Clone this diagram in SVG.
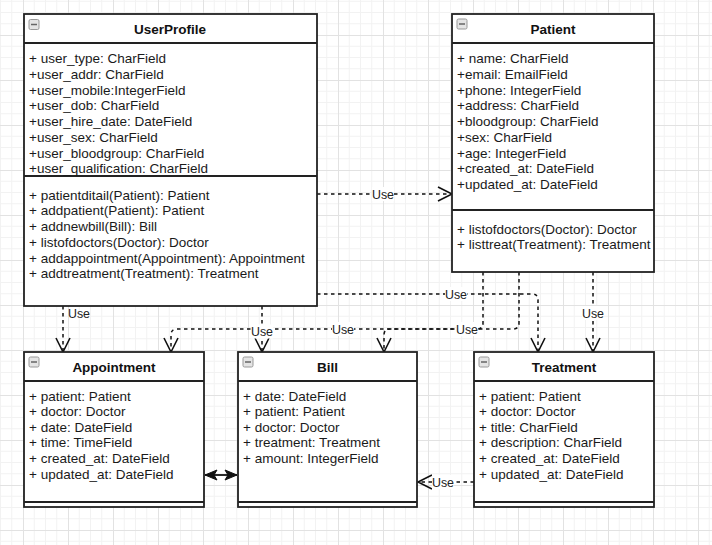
<svg xmlns="http://www.w3.org/2000/svg" width="712" height="545" viewBox="0 0 712 545">
<style>
.box{fill:#fff;stroke:#222;stroke-width:1.8}
.sep{stroke:#222;stroke-width:1.8;fill:none}
.title{font-family:"Liberation Sans",Arial,sans-serif;font-size:13.5px;font-weight:bold;fill:#111;text-anchor:middle}
.txt{font-family:"Liberation Sans",Arial,sans-serif;font-size:13.5px;fill:#1a1a1a}
.icon{fill:#e4e4e4;stroke:#999;stroke-width:1}
.iconbar{stroke:#666;stroke-width:1.5}
.dash{fill:none;stroke:#111;stroke-width:1.5;stroke-dasharray:3.5 3.5}
.solid{fill:none;stroke:#111;stroke-width:1.8}
.lbl{font-family:"Liberation Sans",Arial,sans-serif;font-size:12.4px;fill:#222;text-anchor:middle}
.lblbg{fill:#fff}
</style>
<defs>
<pattern id="grid" x="23" y="35" width="45" height="45" patternUnits="userSpaceOnUse">
<path d="M11.25 0V45M22.5 0V45M33.75 0V45M0 11.25H45M0 22.5H45M0 33.75H45" stroke="#f2f2f2" stroke-width="1" fill="none"/>
<path d="M0.5 0V45M0 0.5H45" stroke="#e2e2e2" stroke-width="1" fill="none"/>
</pattern>
<marker id="open" viewBox="-16 -9 18 18" refX="0" refY="0" markerWidth="18" markerHeight="18" markerUnits="userSpaceOnUse" orient="auto">
<path d="M-14,-7 L0,0 L-14,7" fill="none" stroke="#111" stroke-width="1.6" stroke-dasharray="none"/>
</marker>
<marker id="block" viewBox="-14 -7 16 14" refX="0" refY="0" markerWidth="16" markerHeight="14" markerUnits="userSpaceOnUse" orient="auto-start-reverse">
<path d="M0,0 L-12,-5 L-9,0 L-12,5 Z" fill="#111" stroke="#111" stroke-width="1"/>
</marker>
</defs>
<rect width="712" height="545" fill="#fff"/>
<rect width="712" height="545" fill="url(#grid)"/>

<g id="connectors">
<path class="dash" d="M317,194 H452" marker-end="url(#open)"/>
<path class="dash" d="M63,306 V352" marker-end="url(#open)"/>
<path class="dash" d="M262,306 V352" marker-end="url(#open)"/>
<path class="dash" d="M317,294 H532 Q538,294 538,300 V352" marker-end="url(#open)"/>
<path class="dash" d="M483,272 V323 Q483,329 477,329 H177 Q171,329 171,335 V352" marker-end="url(#open)"/>
<path class="dash" d="M519,272 V323 Q519,329 513,329 H390 Q384,329 384,335 V352" marker-end="url(#open)"/>
<path class="dash" d="M593,272 V352" marker-end="url(#open)"/>
<path class="dash" d="M474,482 H418" marker-end="url(#open)"/>
<path class="solid" d="M205,475 H237" marker-start="url(#block)" marker-end="url(#block)"/>
<g id="labels">
<rect class="lblbg" x="372" y="187" width="22" height="14"/><text class="lbl" x="383" y="198.5">Use</text>
<text class="lbl" x="79" y="317.5">Use</text>
<rect class="lblbg" x="251" y="324.5" width="22" height="14"/><text class="lbl" x="262" y="335.5">Use</text>
<rect class="lblbg" x="445" y="287" width="22" height="14"/><text class="lbl" x="456" y="298.5">Use</text>
<rect class="lblbg" x="332" y="322" width="22" height="14"/><text class="lbl" x="343" y="333.5">Use</text>
<rect class="lblbg" x="456" y="322" width="22" height="14"/><text class="lbl" x="467" y="333.5">Use</text>
<rect class="lblbg" x="582" y="306" width="22" height="14"/><text class="lbl" x="593" y="317.5">Use</text>
<rect class="lblbg" x="432" y="475" width="22" height="14"/><text class="lbl" x="443" y="486.5">Use</text>
</g>
</g>

<g id="UserProfile">
<rect class="box" x="24" y="14" width="293" height="292"/>
<line class="sep" x1="24" y1="43" x2="317" y2="43"/>
<line class="sep" x1="24" y1="176" x2="317" y2="176"/>
<rect class="icon" x="29" y="19.5" width="10" height="10" rx="1.5"/><line class="iconbar" x1="31" y1="24.5" x2="37" y2="24.5"/>
<text class="title" x="170" y="34">UserProfile</text>
<text class="txt">
<tspan x="29" y="63">+ user_type: CharField</tspan>
<tspan x="29" y="78.75">+user_addr: CharField</tspan>
<tspan x="29" y="94.5">+user_mobile:IntegerField</tspan>
<tspan x="29" y="110.25">+user_dob: CharField</tspan>
<tspan x="29" y="126">+user_hire_date: DateField</tspan>
<tspan x="29" y="141.75">+user_sex: CharField</tspan>
<tspan x="29" y="157.5">+user_bloodgroup: CharField</tspan>
<tspan x="29" y="173.25">+user_qualification: CharField</tspan>
</text>
<text class="txt">
<tspan x="29" y="199.5">+ patientditail(Patient): Patient</tspan>
<tspan x="29" y="215.25">+ addpatient(Patient): Patient</tspan>
<tspan x="29" y="231">+ addnewbill(Bill): Bill</tspan>
<tspan x="29" y="246.75">+ listofdoctors(Doctor): Doctor</tspan>
<tspan x="29" y="262.5">+ addappointment(Appointment): Appointment</tspan>
<tspan x="29" y="278.25">+ addtreatment(Treatment): Treatment</tspan>
</text>
</g>

<g id="Patient">
<rect class="box" x="452" y="14" width="202" height="258"/>
<line class="sep" x1="452" y1="43" x2="654" y2="43"/>
<line class="sep" x1="452" y1="210" x2="654" y2="210"/>
<rect class="icon" x="457" y="19" width="10" height="10" rx="1.5"/><line class="iconbar" x1="459" y1="24" x2="465" y2="24"/>
<text class="title" x="553" y="34">Patient</text>
<text class="txt">
<tspan x="457" y="63">+ name: CharField</tspan>
<tspan x="457" y="78.75">+email: EmailField</tspan>
<tspan x="457" y="94.5">+phone: IntegerField</tspan>
<tspan x="457" y="110.25">+address: CharField</tspan>
<tspan x="457" y="126">+bloodgroup: CharField</tspan>
<tspan x="457" y="141.75">+sex: CharField</tspan>
<tspan x="457" y="157.5">+age: IntegerField</tspan>
<tspan x="457" y="173.25">+created_at: DateField</tspan>
<tspan x="457" y="189">+updated_at: DateField</tspan>
</text>
<text class="txt">
<tspan x="457" y="233.5">+ listofdoctors(Doctor): Doctor</tspan>
<tspan x="457" y="249.25">+ listtreat(Treatment): Treatment</tspan>
</text>
</g>

<g id="Appointment">
<rect class="box" x="24" y="352" width="180" height="155"/>
<line class="sep" x1="24" y1="381" x2="204" y2="381"/>
<line class="sep" x1="24" y1="502" x2="204" y2="502"/>
<rect class="icon" x="29" y="357" width="10" height="10" rx="1.5"/><line class="iconbar" x1="31" y1="362" x2="37" y2="362"/>
<text class="title" x="114" y="371.5">Appointment</text>
<text class="txt">
<tspan x="29" y="400.5">+ patient: Patient</tspan>
<tspan x="29" y="416.1">+ doctor: Doctor</tspan>
<tspan x="29" y="431.7">+ date: DateField</tspan>
<tspan x="29" y="447.3">+ time: TimeField</tspan>
<tspan x="29" y="462.9">+ created_at: DateField</tspan>
<tspan x="29" y="478.5">+ updated_at: DateField</tspan>
</text>
</g>

<g id="Bill">
<rect class="box" x="238" y="352" width="179" height="155"/>
<line class="sep" x1="238" y1="381" x2="417" y2="381"/>
<line class="sep" x1="238" y1="502" x2="417" y2="502"/>
<rect class="icon" x="243" y="357" width="10" height="10" rx="1.5"/><line class="iconbar" x1="245" y1="362" x2="251" y2="362"/>
<text class="title" x="327.5" y="371.5">Bill</text>
<text class="txt">
<tspan x="243" y="400.5">+ date: DateField</tspan>
<tspan x="243" y="416.1">+ patient: Patient</tspan>
<tspan x="243" y="431.7">+ doctor: Doctor</tspan>
<tspan x="243" y="447.3">+ treatment: Treatment</tspan>
<tspan x="243" y="462.9">+ amount: IntegerField</tspan>
</text>
</g>

<g id="Treatment">
<rect class="box" x="474" y="352" width="180" height="155"/>
<line class="sep" x1="474" y1="381" x2="654" y2="381"/>
<line class="sep" x1="474" y1="502" x2="654" y2="502"/>
<rect class="icon" x="479" y="357" width="10" height="10" rx="1.5"/><line class="iconbar" x1="481" y1="362" x2="487" y2="362"/>
<text class="title" x="564" y="371.5">Treatment</text>
<text class="txt">
<tspan x="479" y="400.5">+ patient: Patient</tspan>
<tspan x="479" y="416.1">+ doctor: Doctor</tspan>
<tspan x="479" y="431.7">+ title: CharField</tspan>
<tspan x="479" y="447.3">+ description: CharField</tspan>
<tspan x="479" y="462.9">+ created_at: DateField</tspan>
<tspan x="479" y="478.5">+ updated_at: DateField</tspan>
</text>
</g>
</svg>
